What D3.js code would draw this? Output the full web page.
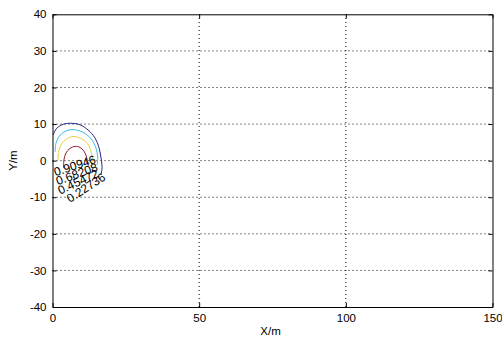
<!DOCTYPE html>
<html><head><meta charset="utf-8">
<script src="https://cdn.jsdelivr.net/npm/d3@7"></script>
<style>body{margin:0;background:#fff}svg{display:block;font-family:"Liberation Sans",Arial,sans-serif}</style>
</head><body>
<script>
const xTicks = [0, 50, 100, 150];
const yTicks = [-40, -30, -20, -10, 0, 10, 20, 30, 40];
const levels = ["0.22736", "0.45472", "0.68208", "0.90946"];
const levelColors = ["#2b2b90", "#3cc0ea", "#e8d040", "#8a1c2a"];
// contour lines, [x (m), y (m)]
const contourBlue = [[0.2,7.0],[1.5,8.9],[3.9,10.0],[6.6,10.2],[9.4,9.8],[12.1,8.4],[14.5,6.2],[15.8,3.7],[16.5,1.0],[16.9,-1.7],[16.5,-3.9]];
const contourCyan = [[0.9,2.4],[1.2,4.8],[2.6,7.0],[4.6,8.1],[6.6,8.5],[9.0,8.2],[11.4,7.3],[13.5,5.6],[14.8,3.5],[15.4,1.0],[15.2,-1.2]];
const contourYellow = [[1.9,0.2],[2.1,2.6],[3.3,4.8],[5.0,6.0],[7.0,6.6],[9.0,6.3],[11.1,5.4],[12.4,4.0],[13.3,2.1],[13.5,-0.1],[13.1,-2.0]];
const contourRed = [[3.8,-2.0],[3.9,0.2],[4.6,2.1],[5.9,3.3],[7.7,3.9],[9.4,3.6],[10.7,2.6],[11.6,1.0],[11.8,-0.6]];
const contours = [contourBlue, contourCyan, contourYellow, contourRed];
// label anchors [x, y, angle]
const labelPos = [[11.6,-7.6,-33],[8.9,-6.0,-25],[8.4,-3.9,-20],[7.7,-1.6,-18]];

const W = 502, H = 338;
const m = {l:52.5, r:9.5, t:14.3, b:31};
const svg = d3.select("body").append("svg").attr("width", W).attr("height", H);
const x = d3.scaleLinear().domain([0,150]).range([m.l, W - m.r]);
const y = d3.scaleLinear().domain([-40,40]).range([H - m.b, m.t]);
const g = svg.append("g");

// grid
g.selectAll(".gx").data(xTicks.slice(1,-1)).join("line")
  .attr("x1", d=>x(d)).attr("x2", d=>x(d)).attr("y1", y(-40)).attr("y2", y(40))
  .attr("stroke", "#000").attr("stroke-width", 1).attr("stroke-dasharray", "1,3");
g.selectAll(".gy").data(yTicks.slice(1,-1)).join("line")
  .attr("y1", d=>y(d)).attr("y2", d=>y(d)).attr("x1", x(0)).attr("x2", x(150))
  .attr("stroke", "#000").attr("stroke-width", 1).attr("stroke-dasharray", "1,3");

// contours
const line = d3.line().x(d=>x(d[0])).y(d=>y(d[1])).curve(d3.curveCatmullRom);
g.selectAll(".ct").data(contours).join("path")
  .attr("d", line).attr("fill", "none").attr("stroke", (d,i)=>levelColors[i]).attr("stroke-width", 1);

// contour labels
g.selectAll(".cl").data(labelPos).join("text")
  .attr("transform", d=>`translate(${x(d[0])},${y(d[1])}) rotate(${d[2]})`)
  .attr("text-anchor", "middle").attr("dominant-baseline", "middle")
  .attr("font-size", 12).attr("fill", "#000")
  .text((d,i)=>levels[i]);

// axes (ticks inward)
const fmt = d => String(d);
const ax = d3.axisBottom(x).tickValues(xTicks).tickFormat(fmt).tickSizeInner(-4).tickSizeOuter(0).tickPadding(7);
const ay = d3.axisLeft(y).tickValues(yTicks).tickFormat(fmt).tickSizeInner(-4).tickSizeOuter(0).tickPadding(8);
const gx = svg.append("g").attr("transform", `translate(0,${y(-40)})`).call(ax);
const gy = svg.append("g").attr("transform", `translate(${x(0)},0)`).call(ay);
svg.append("g").attr("transform", `translate(0,${y(40)})`).call(d3.axisTop(x).tickValues(xTicks).tickSizeInner(-4).tickSizeOuter(0).tickFormat(""));
svg.append("g").attr("transform", `translate(${x(150)},0)`).call(d3.axisRight(y).tickValues(yTicks).tickSizeInner(-4).tickSizeOuter(0).tickFormat(""));
svg.selectAll(".domain").attr("stroke", "#000");
svg.selectAll(".tick line").attr("stroke", "#000");
svg.selectAll(".tick text").attr("font-size", 11.5).attr("fill", "#000").attr("font-family", '"Liberation Sans",Arial,sans-serif');
gy.selectAll(".tick text").attr("dx", "2");

svg.append("text").attr("x", (x(0)+x(150))/2 - 2).attr("y", 335).attr("text-anchor","middle")
  .attr("font-size", 11.5).text("X/m");
svg.append("text").attr("transform", `translate(17,${(y(40)+y(-40))/2}) rotate(-90)`).attr("text-anchor","middle")
  .attr("font-size", 11.5).text("Y/m");
</script>
</body></html>
